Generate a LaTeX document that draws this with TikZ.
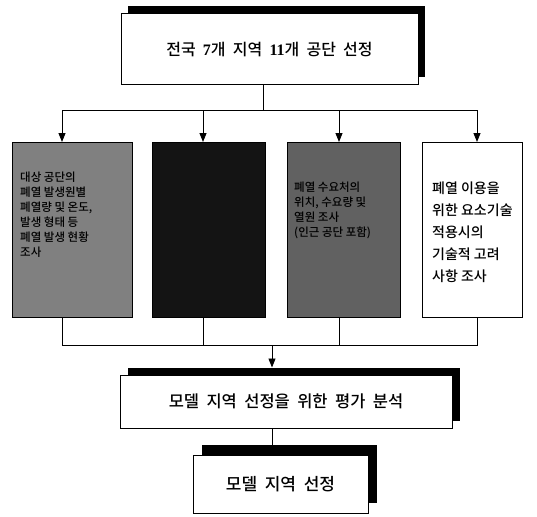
\documentclass[tikz,border=0pt]{standalone}
\usepackage{fontspec}
\setmainfont{Noto Sans CJK KR}[UprightFont=* Medium]
\newfontfamily\topkr{Noto Sans CJK KR}[UprightFont=* Medium,WordSpace=1.4]
\newfontfamily\midkr{Noto Sans CJK KR}[UprightFont=* Medium,WordSpace=2]
\newfontfamily\numfont{Liberation Serif}
\usetikzlibrary{arrows.meta,shadows}
\begin{document}
\begin{tikzpicture}[x=1pt,y=-1pt,
  conn/.style={line width=0.9pt},
  arr/.style={conn,-{Triangle[length=9pt,width=7pt]}},
  frame/.style={draw,line width=1pt,rectangle,inner sep=0pt},
  shadowA/.style={drop shadow={shadow xshift=7pt,shadow yshift=8pt,opacity=1,fill=black}},
  shadowB/.style={drop shadow={shadow xshift=8pt,shadow yshift=7pt,opacity=1,fill=black}},
  shadowC/.style={drop shadow={shadow xshift=9pt,shadow yshift=10pt,opacity=1,fill=black}},
  boxtext/.style={align=left,anchor=north west,inner sep=0pt,font=\fontsize{11.5}{15}\selectfont}]
\useasboundingbox (0,0) rectangle (537,516);
% top box
\node[frame,fill=white,shadowA,minimum width=297pt,minimum height=71pt,
      font=\fontsize{16}{19}\topkr\selectfont] (top) at (269.5,49.5)
      {전국 {\numfont\bfseries 7}개 지역 {\numfont\bfseries 11}개 공단 선정};
% four boxes
\node[frame,fill=black!50,minimum width=120pt,minimum height=175pt] (b1) at (72,229.5) {};
\node[frame,fill=black!92,minimum width=113pt,minimum height=175pt] (b2) at (208.5,229.5) {};
\node[frame,fill=black!62,minimum width=113pt,minimum height=175pt] (b3) at (343.5,229.5) {};
\node[frame,fill=white,minimum width=100pt,minimum height=175pt] (b4) at (472,229.5) {};
\node[boxtext] (t1) at (20,172) {대상 공단의\\폐열 발생원별\\폐열량 및 온도,\\발생 형태 등\\폐열 발생 현황\\조사};
\node[boxtext] (t3) at (294,182) {폐열 수요처의\\위치, 수요량 및\\열원 조사\\(인근 공단 포함)};
\node[align=left,anchor=north west,inner sep=0pt,font=\fontsize{14}{22}\selectfont] (t4) at (432,182)
      {폐열 이용을\\위한 요소기술\\적용시의\\기술적 고려\\사항 조사};
% junctions
\coordinate (j1) at (263,110);
\coordinate (j2) at (272,345);
\draw[conn] (top.south -| j1) -- (j1);
\draw[conn] (62,110) -- (477,110);
\draw[arr] (62,110) -- (62 ,142);
\draw[arr] (203,110) -- (203,142);
\draw[arr] (339,110) -- (339,142);
\draw[arr] (477,110) -- (477,142);
% bottom collection
\draw[conn] (62,317) -- (62,345) -- (477,345) -- (477,317);
\draw[conn] (203,317) -- (203,345);
\draw[conn] (339,317) -- (339,345);
% middle box
\node[frame,fill=white,shadowB,minimum width=332pt,minimum height=53pt,
      font=\fontsize{16.5}{19}\midkr\selectfont] (mid) at (286,401.5) {모델 지역 선정을 위한 평가 분석};
\draw[arr] (j2) -- ([yshift=7pt]mid.north -| j2);
% bottom box
\node[frame,fill=white,shadowC,minimum width=175pt,minimum height=58pt,
      font=\fontsize{17}{20}\midkr\selectfont] (fin) at (280.5,484) {모델 지역 선정};
\draw[conn] (mid.south -| j2) -- ([yshift=10pt]fin.north -| j2);
\end{tikzpicture}
\end{document}
